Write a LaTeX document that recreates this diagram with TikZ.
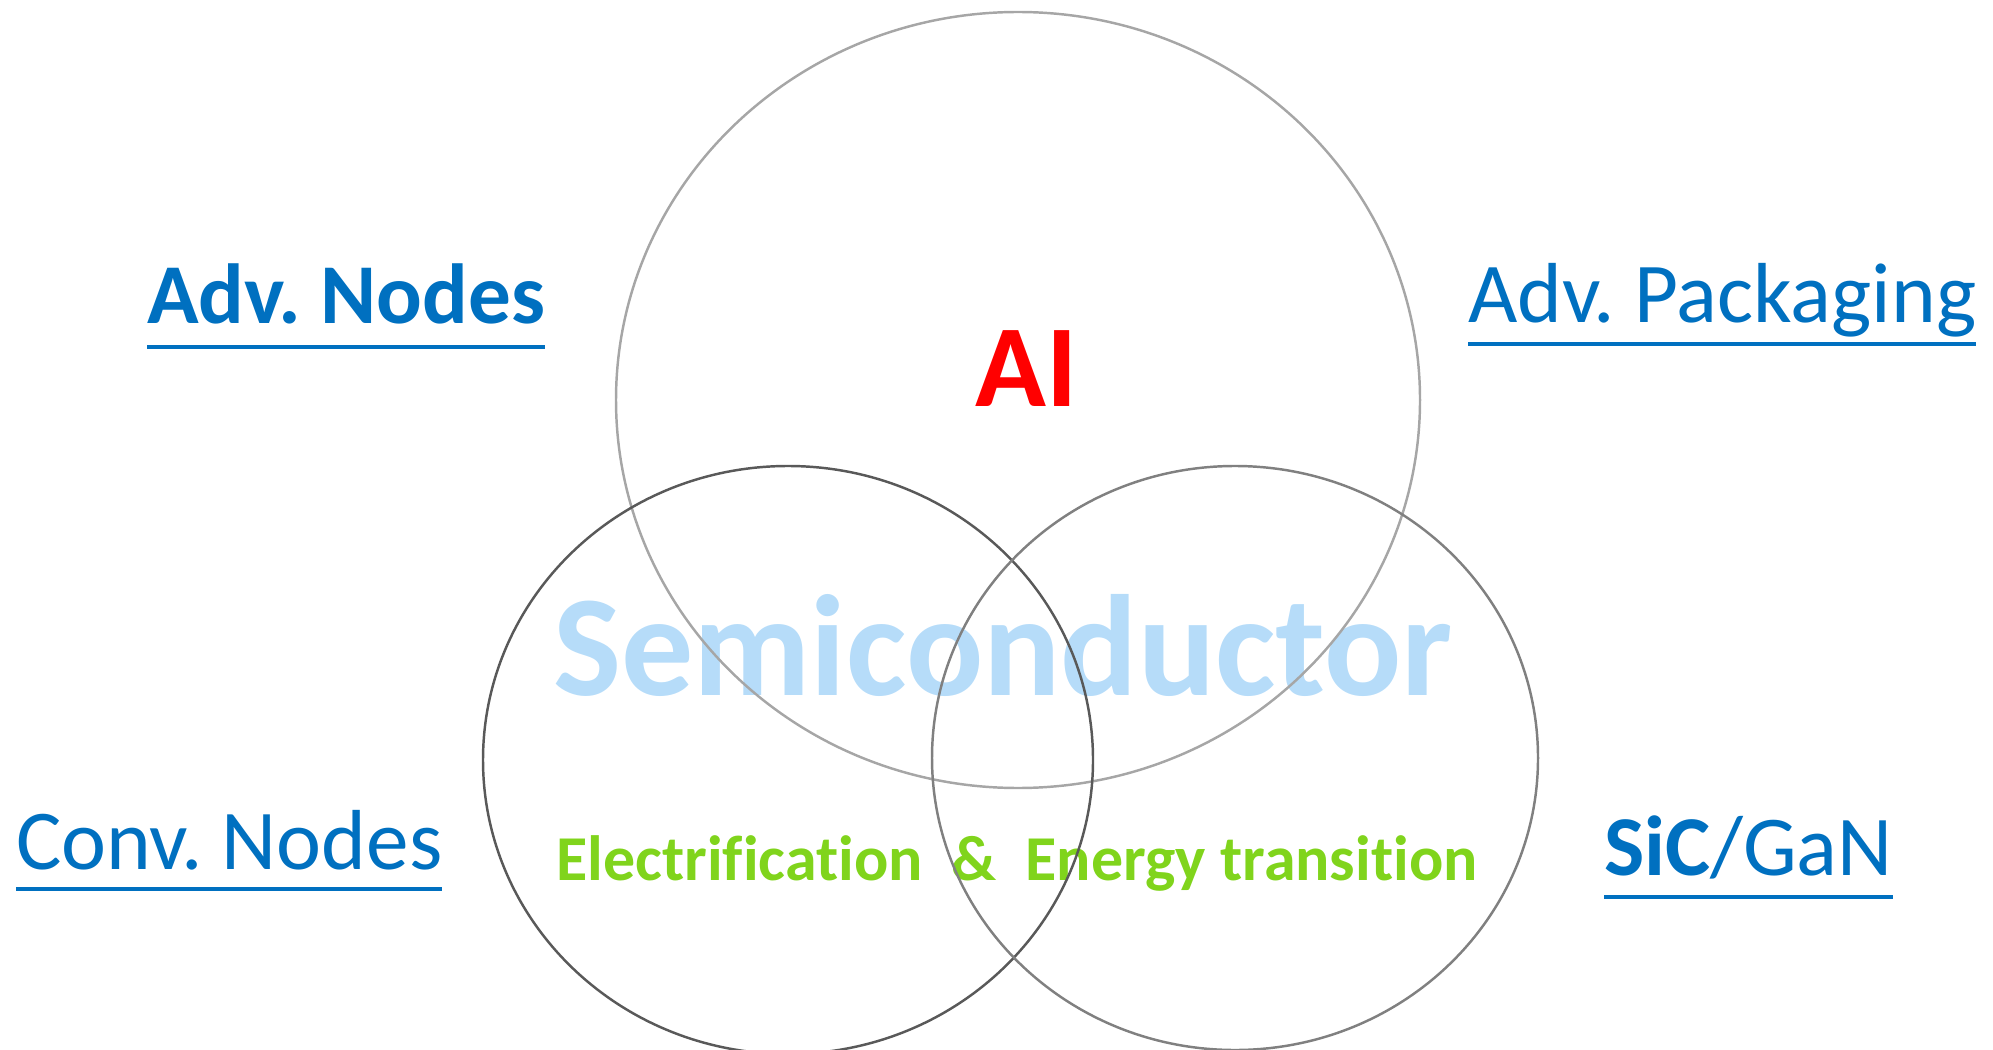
\documentclass[tikz,border=0pt]{standalone}
\usepackage{fontspec}
\setmainfont{Carlito}[Ligatures=NoCommon]
\usetikzlibrary{calc}
\frenchspacing
\definecolor{techblue}{HTML}{0070C0}
\definecolor{aired}{HTML}{FF0000}
\definecolor{semiblue}{HTML}{B6DCF9}
\definecolor{energygreen}{HTML}{80D41C}
\definecolor{ringlight}{HTML}{A6A6A6}
\definecolor{ringdark}{HTML}{595959}
\definecolor{ringmid}{HTML}{808080}
\tikzset{
    techlabel/.style={inner sep=0pt, outer sep=0pt, anchor=base west, text=techblue, font=\fontsize{48.5}{52}\selectfont},
    techbold/.style={techlabel, font=\fontsize{48.5}{52}\selectfont\bfseries},
    uline/.style={draw=techblue, line width=2.7pt},
    ring/.style={line width=1.4pt}
}

\begin{document}
\begin{tikzpicture}[x=0.02cm, y=-0.02cm]
    \useasboundingbox (0,0) rectangle (1993,1050);
    % centre words
    \node[inner sep=0pt, anchor=base, text=semiblue, font=\fontsize{82}{90}\selectfont\bfseries] (semi) at (1003,695) {Semiconductor};
    \node[inner sep=0pt, anchor=base, text=energygreen, font=\fontsize{36.4}{40}\selectfont\bfseries] (elec) at (1017,880) {Electrification~~\&~~Energy transition};
    \node[inner sep=0pt, anchor=base, text=aired, font=\fontsize{66.6}{70}\selectfont\bfseries] (ai) at (1027,407) {AI};
    % the three rings
    \draw[ring, draw=ringlight] (1018,400) ellipse [x radius=402, y radius=388];
    \draw[ring, draw=ringdark] (788,760) ellipse [x radius=305, y radius=294];
    \draw[ring, draw=ringmid] (1235,758) ellipse [x radius=303, y radius=292];
    % side labels
    \node[techbold] (advnodes) at (147,324) {Adv. Nodes};
    \node[techlabel] (advpack) at (1468,323) {Adv. Packaging};
    \node[techlabel] (convnodes) at (16,869) {Conv. Nodes};
    \node[techlabel] (sicgan) at (1604,875) {\textbf{SiC}/GaN};
    \draw[uline] ($(advnodes.base west)+(0,23)$) -- ($(advnodes.base east)+(0,23)$);
    \draw[uline] ($(advpack.base west)+(0,21)$) -- ($(advpack.base east)+(0,21)$);
    \draw[uline] ($(convnodes.base west)+(0,20)$) -- ($(convnodes.base east)+(0,20)$);
    \draw[uline] ($(sicgan.base west)+(0,22)$) -- ($(sicgan.base east)+(0,22)$);
\end{tikzpicture}
\end{document}
